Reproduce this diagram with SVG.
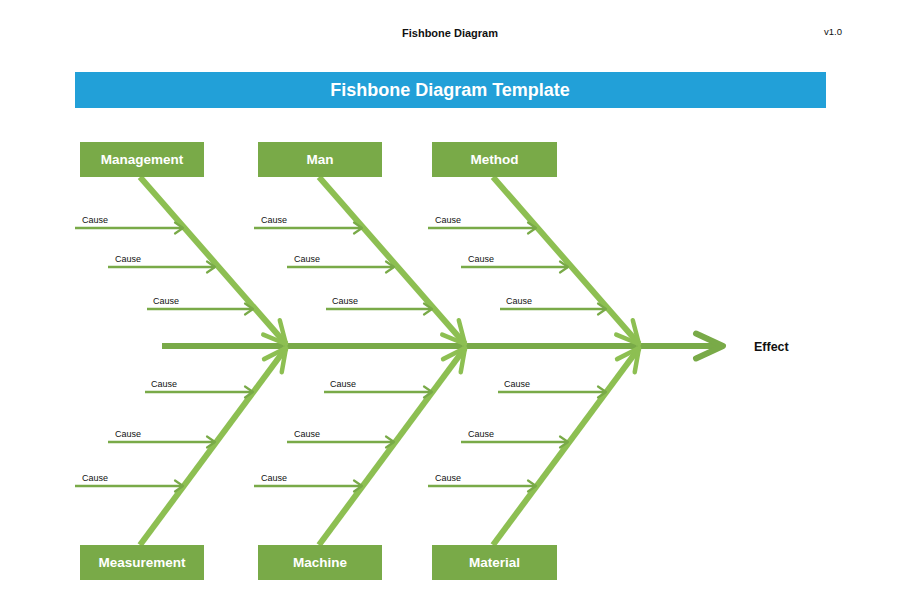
<svg xmlns="http://www.w3.org/2000/svg" width="900" height="600" viewBox="0 0 900 600">
<style>
.box{fill:#79aa48}
.lbl{font-family:"Liberation Sans",Arial,sans-serif;font-weight:bold;font-size:13.5px;fill:#fff;text-anchor:middle}
.cause{font-family:"Liberation Sans",Arial,sans-serif;font-size:9px;fill:#111}
.cl{stroke:#79aa48;stroke-width:2.5;fill:none}
.bone{stroke:#8dbf52;stroke-width:6;fill:none}
.spine{stroke:#79aa48;stroke-width:6;fill:none}
</style>
<defs>
<marker id="mBone" markerUnits="userSpaceOnUse" viewBox="-27 -15 32 30" markerWidth="32" markerHeight="30" refX="0" refY="0" orient="auto">
<path d="M-22,-11 L0,0 L-22,11" fill="none" stroke="#8dbf52" stroke-width="4.5" stroke-linecap="round" stroke-linejoin="round"/>
</marker>
<marker id="mSpine" markerUnits="userSpaceOnUse" viewBox="-33 -18 38 36" markerWidth="38" markerHeight="36" refX="0" refY="0" orient="auto">
<path d="M-27,-12.5 L0,0 L-27,12.5" fill="none" stroke="#79aa48" stroke-width="6" stroke-linecap="round" stroke-linejoin="round"/>
</marker>
<marker id="mCause" markerUnits="userSpaceOnUse" viewBox="-11 -8 14 16" markerWidth="14" markerHeight="16" refX="0" refY="0" orient="auto">
<path d="M-8,-5.5 L0,0 L-8,5.5" fill="none" stroke="#79aa48" stroke-width="2.2" stroke-linecap="round" stroke-linejoin="round"/>
</marker>
</defs>
<rect width="900" height="600" fill="#fff"/>
<g id="header">
<text x="450" y="37" font-family="'Liberation Sans',Arial,sans-serif" font-weight="bold" font-size="11px" text-anchor="middle" fill="#111">Fishbone Diagram</text>
<text x="824" y="35" font-family="'Liberation Sans',Arial,sans-serif" font-size="9.5px" fill="#111">v1.0</text>
<rect x="75" y="72" width="751" height="36" fill="#22a0d8"/>
<text x="450" y="96" font-family="'Liberation Sans',Arial,sans-serif" font-weight="bold" font-size="18px" text-anchor="middle" fill="#fff">Fishbone Diagram Template</text>
</g>
<g id="connectors">
<line class="spine" x1="162" y1="346" x2="723" y2="346" marker-end="url(#mSpine)"/>
<line class="bone" x1="140" y1="177" x2="286" y2="344" marker-end="url(#mBone)"/>
<line class="bone" x1="319" y1="177" x2="465" y2="344" marker-end="url(#mBone)"/>
<line class="bone" x1="493" y1="177" x2="639" y2="344" marker-end="url(#mBone)"/>
<line class="bone" x1="140" y1="545" x2="286" y2="348" marker-end="url(#mBone)"/>
<line class="bone" x1="319" y1="545" x2="465" y2="348" marker-end="url(#mBone)"/>
<line class="bone" x1="493" y1="545" x2="639" y2="348" marker-end="url(#mBone)"/>
<g id="causes-management">
<line class="cl" x1="75" y1="228" x2="183" y2="228" marker-end="url(#mCause)"/>
<line class="cl" x1="108" y1="267" x2="215" y2="267" marker-end="url(#mCause)"/>
<line class="cl" x1="147" y1="309" x2="253" y2="309" marker-end="url(#mCause)"/>
</g>
<g id="causes-man">
<line class="cl" x1="254" y1="228" x2="362" y2="228" marker-end="url(#mCause)"/>
<line class="cl" x1="287" y1="267" x2="394" y2="267" marker-end="url(#mCause)"/>
<line class="cl" x1="326" y1="309" x2="432" y2="309" marker-end="url(#mCause)"/>
</g>
<g id="causes-method">
<line class="cl" x1="428" y1="228" x2="536" y2="228" marker-end="url(#mCause)"/>
<line class="cl" x1="461" y1="267" x2="568" y2="267" marker-end="url(#mCause)"/>
<line class="cl" x1="500" y1="309" x2="606" y2="309" marker-end="url(#mCause)"/>
</g>
<g id="causes-measurement">
<line class="cl" x1="145" y1="392" x2="253" y2="392" marker-end="url(#mCause)"/>
<line class="cl" x1="108" y1="442" x2="215" y2="442" marker-end="url(#mCause)"/>
<line class="cl" x1="75" y1="486" x2="183" y2="486" marker-end="url(#mCause)"/>
</g>
<g id="causes-machine">
<line class="cl" x1="324" y1="392" x2="432" y2="392" marker-end="url(#mCause)"/>
<line class="cl" x1="287" y1="442" x2="394" y2="442" marker-end="url(#mCause)"/>
<line class="cl" x1="254" y1="486" x2="362" y2="486" marker-end="url(#mCause)"/>
</g>
<g id="causes-material">
<line class="cl" x1="498" y1="392" x2="606" y2="392" marker-end="url(#mCause)"/>
<line class="cl" x1="461" y1="442" x2="568" y2="442" marker-end="url(#mCause)"/>
<line class="cl" x1="428" y1="486" x2="536" y2="486" marker-end="url(#mCause)"/>
</g>
</g>
<g id="cause-labels">
<text class="cause" x="82" y="223">Cause</text>
<text class="cause" x="115" y="262">Cause</text>
<text class="cause" x="153" y="304">Cause</text>
<text class="cause" x="261" y="223">Cause</text>
<text class="cause" x="294" y="262">Cause</text>
<text class="cause" x="332" y="304">Cause</text>
<text class="cause" x="435" y="223">Cause</text>
<text class="cause" x="468" y="262">Cause</text>
<text class="cause" x="506" y="304">Cause</text>
<text class="cause" x="151" y="387">Cause</text>
<text class="cause" x="115" y="437">Cause</text>
<text class="cause" x="82" y="481">Cause</text>
<text class="cause" x="330" y="387">Cause</text>
<text class="cause" x="294" y="437">Cause</text>
<text class="cause" x="261" y="481">Cause</text>
<text class="cause" x="504" y="387">Cause</text>
<text class="cause" x="468" y="437">Cause</text>
<text class="cause" x="435" y="481">Cause</text>
</g>
<g id="node-management"><rect class="box" x="80" y="142" width="124" height="35"/><text class="lbl" x="142" y="164">Management</text></g>
<g id="node-man"><rect class="box" x="258" y="142" width="124" height="35"/><text class="lbl" x="320" y="164">Man</text></g>
<g id="node-method"><rect class="box" x="432" y="142" width="125" height="35"/><text class="lbl" x="494.5" y="164">Method</text></g>
<g id="node-measurement"><rect class="box" x="80" y="545" width="124" height="35"/><text class="lbl" x="142" y="567">Measurement</text></g>
<g id="node-machine"><rect class="box" x="258" y="545" width="124" height="35"/><text class="lbl" x="320" y="567">Machine</text></g>
<g id="node-material"><rect class="box" x="432" y="545" width="125" height="35"/><text class="lbl" x="494.5" y="567">Material</text></g>
<g id="node-effect"><text x="754" y="351" font-family="'Liberation Sans',Arial,sans-serif" font-weight="bold" font-size="12.5px" fill="#111">Effect</text></g>
</svg>
